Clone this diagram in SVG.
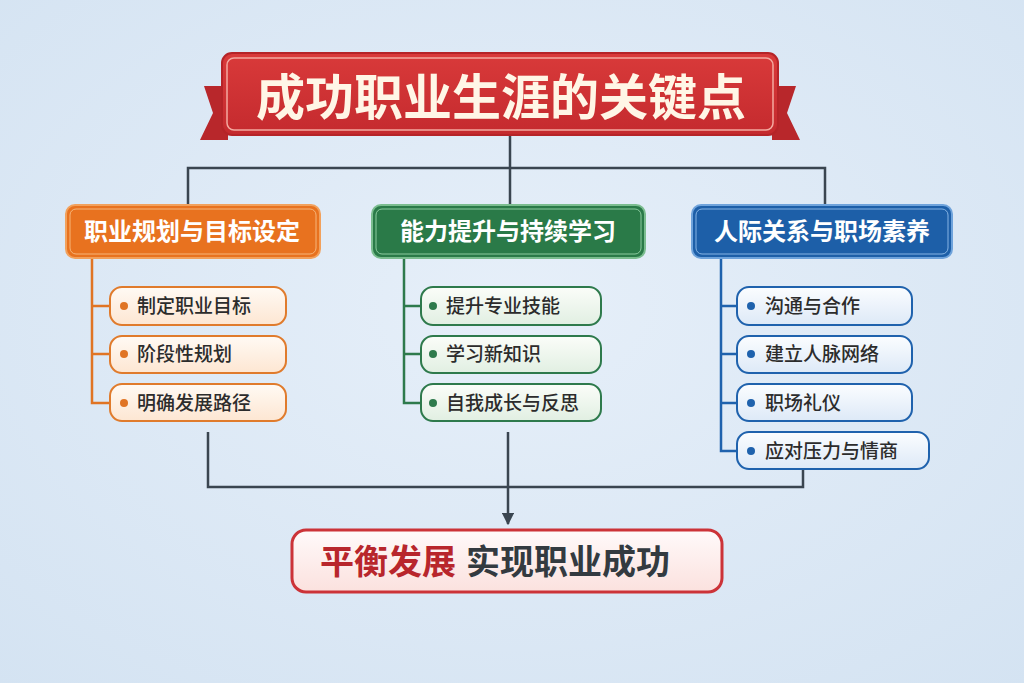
<svg xmlns="http://www.w3.org/2000/svg" width="1024" height="683" viewBox="0 0 1024 683">
<defs>
<radialGradient id="bg" cx="50%" cy="45%" r="75%">
<stop offset="0" stop-color="#e6eff9"/>
<stop offset="1" stop-color="#d4e3f2"/>
</radialGradient>
<linearGradient id="gTitle" x1="0" y1="0" x2="0" y2="1">
<stop offset="0" stop-color="#d93a3a"/>
<stop offset="1" stop-color="#c42a2e"/>
</linearGradient>
<linearGradient id="gO" x1="0" y1="0" x2="0" y2="1">
<stop offset="0" stop-color="#fffaf4"/>
<stop offset="1" stop-color="#fde6d2"/>
</linearGradient>
<linearGradient id="gG" x1="0" y1="0" x2="0" y2="1">
<stop offset="0" stop-color="#fbfdf9"/>
<stop offset="1" stop-color="#e1efe2"/>
</linearGradient>
<linearGradient id="gB" x1="0" y1="0" x2="0" y2="1">
<stop offset="0" stop-color="#fbfdff"/>
<stop offset="1" stop-color="#dde9f7"/>
</linearGradient>
<linearGradient id="gR" x1="0" y1="0" x2="0" y2="1">
<stop offset="0" stop-color="#fffafa"/>
<stop offset="1" stop-color="#fbe1de"/>
</linearGradient>
<marker id="arr" viewBox="0 0 10 10" refX="9" refY="5" markerWidth="5" markerHeight="5" orient="auto" markerUnits="strokeWidth">
<path d="M0,0 L10,5 L0,10 z" fill="#3a4550"/>
</marker>
<style>
text{font-family:"Noto Sans CJK SC","Noto Sans",sans-serif;}
.conn{fill:none;stroke:#3a4550;stroke-width:2.5;}
.hdr{font-size:24px;font-weight:700;fill:#ffffff;text-anchor:middle;}
.it{font-size:19px;font-weight:500;fill:#2c2c2c;}
.lo{fill:none;stroke:#e07424;stroke-width:2.5;}
.lg{fill:none;stroke:#2e7a4c;stroke-width:2.5;}
.lb{fill:none;stroke:#1f62ad;stroke-width:2.5;}
.io{fill:url(#gO);stroke:#e07b2c;stroke-width:2;}
.ig{fill:url(#gG);stroke:#2e7a4c;stroke-width:2;}
.ib{fill:url(#gB);stroke:#1f62ad;stroke-width:2;}
</style>
</defs>
<rect width="1024" height="683" fill="url(#bg)"/>

<g id="connectors">
<path class="conn" d="M510,135 V168 M188,205 V168 H825 V205 M510,168 V205"/>
<path class="conn" d="M208,432 V487 H803 V470"/>
<path class="conn" d="M508,432 V524" marker-end="url(#arr)"/>
<path class="lo" d="M92,258 V403 H110 M92,306 H110 M92,354 H110"/>
<path class="lg" d="M404,258 V403 H421 M404,306 H421 M404,354 H421"/>
<path class="lb" d="M721,258 V451 H737 M721,306 H737 M721,354 H737 M721,403 H737"/>
</g>

<g id="title">
<polygon points="204,86 228,86 228,140 200,140 213,113" fill="#b8272b"/>
<polygon points="796,86 772,86 772,140 800,140 787,113" fill="#b8272b"/>
<rect x="222" y="53" width="556" height="82" rx="10" fill="url(#gTitle)" stroke="#b52428" stroke-width="2"/>
<rect x="227" y="58" width="546" height="72" rx="7" fill="none" stroke="#f3a9a0" stroke-width="1.5"/>
<text x="501" y="115" text-anchor="middle" font-size="49" font-weight="700" fill="#fff6e6">成功职业生涯的关键点</text>
</g>

<g id="h1">
<rect x="66" y="205" width="254" height="53" rx="9" fill="#e8721f" stroke="#f2a15c" stroke-width="2"/>
<rect x="70" y="209" width="246" height="45" rx="6" fill="none" stroke="#f6b57a" stroke-width="1"/>
<text class="hdr" x="192" y="240">职业规划与目标设定</text>
</g>
<g id="h2">
<rect x="372" y="205" width="273" height="53" rx="9" fill="#2a7a48" stroke="#7bbd8f" stroke-width="2"/>
<rect x="376" y="209" width="265" height="45" rx="6" fill="none" stroke="#8ccb9f" stroke-width="1"/>
<text class="hdr" x="508" y="240">能力提升与持续学习</text>
</g>
<g id="h3">
<rect x="692" y="205" width="260" height="53" rx="9" fill="#1d5fa8" stroke="#6fa3db" stroke-width="2"/>
<rect x="696" y="209" width="252" height="45" rx="6" fill="none" stroke="#86b4e4" stroke-width="1"/>
<text class="hdr" x="822" y="240">人际关系与职场素养</text>
</g>

<g id="o1"><rect class="io" x="110" y="287" width="176" height="38" rx="12"/><circle cx="124" cy="306" r="4" fill="#e07424"/><text class="it" x="137" y="313">制定职业目标</text></g>
<g id="o2"><rect class="io" x="110" y="336" width="176" height="37" rx="12"/><circle cx="124" cy="354" r="4" fill="#e07424"/><text class="it" x="137" y="361">阶段性规划</text></g>
<g id="o3"><rect class="io" x="110" y="384" width="176" height="37" rx="12"/><circle cx="124" cy="403" r="4" fill="#e07424"/><text class="it" x="137" y="410">明确发展路径</text></g>

<g id="g1"><rect class="ig" x="421" y="287" width="180" height="38" rx="12"/><circle cx="433" cy="306" r="4" fill="#2e7a4c"/><text class="it" x="446" y="313">提升专业技能</text></g>
<g id="g2"><rect class="ig" x="421" y="336" width="180" height="37" rx="12"/><circle cx="433" cy="354" r="4" fill="#2e7a4c"/><text class="it" x="446" y="361">学习新知识</text></g>
<g id="g3"><rect class="ig" x="421" y="384" width="180" height="37" rx="12"/><circle cx="433" cy="403" r="4" fill="#2e7a4c"/><text class="it" x="446" y="410">自我成长与反思</text></g>

<g id="b1"><rect class="ib" x="737" y="287" width="175" height="38" rx="12"/><circle cx="751" cy="306" r="4" fill="#1f62ad"/><text class="it" x="765" y="313">沟通与合作</text></g>
<g id="b2"><rect class="ib" x="737" y="336" width="175" height="37" rx="12"/><circle cx="751" cy="354" r="4" fill="#1f62ad"/><text class="it" x="765" y="361">建立人脉网络</text></g>
<g id="b3"><rect class="ib" x="737" y="384" width="175" height="37" rx="12"/><circle cx="751" cy="403" r="4" fill="#1f62ad"/><text class="it" x="765" y="410">职场礼仪</text></g>
<g id="b4"><rect class="ib" x="737" y="432" width="192" height="37" rx="12"/><circle cx="751" cy="451" r="4" fill="#1f62ad"/><text class="it" x="765" y="458">应对压力与情商</text></g>

<g id="result">
<rect x="292" y="530" width="430" height="62" rx="14" fill="url(#gR)" stroke="#cc3338" stroke-width="3"/>
<text x="320" y="574" font-size="34" font-weight="700"><tspan fill="#b8262c">平衡发展</tspan><tspan fill="#333a40" dx="10">实现职业成功</tspan></text>
</g>
</svg>
